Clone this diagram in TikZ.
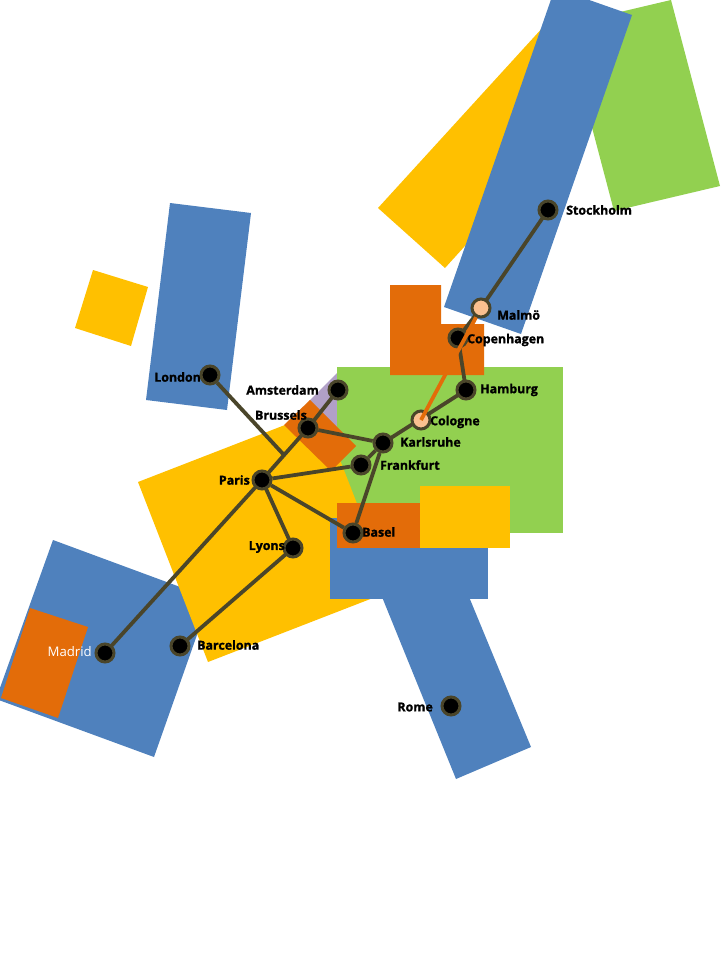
\documentclass[tikz,border=0pt]{standalone}
\usepackage{fontspec}
\setmainfont[BoldFeatures={FakeBold=1.2}]{Open Sans}
\usetikzlibrary{calc}
\definecolor{cblue}{HTML}{4F81BD}
\definecolor{cgreen}{HTML}{92D050}
\definecolor{cyellow}{HTML}{FFC000}
\definecolor{corange}{HTML}{E36C09}
\definecolor{clav}{HTML}{B1A0C7}
\definecolor{cline}{HTML}{4A452A}
\definecolor{cpeach}{HTML}{FAC090}
\pgfdeclarelayer{areas}
\pgfdeclarelayer{lines}
\pgfsetlayers{areas,lines,main}
\tikzset{
  area/.style={draw=none},
  stopdark/.style={circle,draw=cline,line width=3pt,fill=black,minimum size=18pt,inner sep=0pt},
  stoplight/.style={circle,draw=cline,line width=3pt,fill=cpeach,minimum size=18pt,inner sep=0pt},
  metro/.style={draw=cline,line width=3.8pt},
  metroorange/.style={draw=corange,line width=3.8pt},
  lbl/.style={font=\fontsize{12.4}{14}\selectfont\bfseries,text=black,inner sep=0pt},
}
\begin{document}
\begin{tikzpicture}[x=1pt,y=-1pt]
\useasboundingbox (0,0) rectangle (720,960);
\begin{pgfonlayer}{areas}
\clip (0,0) rectangle (720,960);
\fill[area,cgreen] (671,0)--(720,186)--(614,211)--(565,25)--cycle;
\fill[area,cyellow] (378,208)--(445,268)--(590,108)--(545,25)--cycle;
\fill[area,cblue] (555,-12)--(632,15)--(521,334)--(444,307)--cycle;
\fill[area,cblue] (170,203)--(251,213)--(227,410)--(146,400)--cycle;
\fill[area,cyellow] (93,270)--(148,287)--(131,346)--(75,328)--cycle;
\fill[area,cblue] (53,540)--(210,598)--(154,757)--(-4,699)--cycle;
\fill[area,corange] (30,608)--(88,627)--(58,718)--(1,698)--cycle;
\fill[area,clav] (337,373)--(309,401)--(337,430)--cycle;
\fill[area,cgreen] (337,367) rectangle (563,533);
\fill[area,cyellow] (138,482)--(321,411)--(391,591)--(208,662)--cycle;
\fill[area,corange] (310,400)--(356,446)--(331,471)--(284,425)--cycle;
\fill[area,corange] (390,285)--(441,285)--(441,324)--(484,324)--(484,375)--(390,375)--cycle;
\fill[area,cblue] (531,747)--(456,779)--(380,592)--(467,592)--cycle;
\fill[area,cblue] (330,518) rectangle (488,599);
\fill[area,corange] (337,503) rectangle (420,548);
\fill[area,cyellow] (420,486) rectangle (510,548);
\end{pgfonlayer}
% stops
\node[stopdark] (Stockholm) at (548,210) {};
\node[stoplight] (Malmo) at (481,308) {};
\node[stopdark] (Copenhagen) at (458,338) {};
\node[stopdark] (Hamburg) at (466,390) {};
\node[stoplight] (Cologne) at (421,420) {};
\node[stopdark] (Karlsruhe) at (383,443) {};
\node[stopdark] (Frankfurt) at (361,465) {};
\node[stopdark] (Basel) at (353,533) {};
\node[stopdark] (Amsterdam) at (338,390) {};
\node[stopdark] (Brussels) at (308,428) {};
\node[stopdark] (London) at (210,375) {};
\node[stopdark] (Paris) at (262,480) {};
\node[stopdark] (Lyons) at (293,548) {};
\node[stopdark] (Barcelona) at (180,646) {};
\node[stopdark] (Madrid) at (105,653) {};
\node[stopdark] (Rome) at (451,706) {};
\coordinate (jLondon) at (284,455);
% connectors
\begin{pgfonlayer}{lines}
\draw[metro] (Stockholm.center)--(Malmo.center)--(Copenhagen.center)--(Hamburg.center)--(Karlsruhe.center);
\draw[metro] (Karlsruhe)--(Frankfurt);
\draw[metro] (Karlsruhe)--(Basel);
\draw[metro] (Karlsruhe)--(Brussels);
\draw[metro] (Amsterdam.center)--(Brussels.center)--(Paris.center)--(Madrid.center);
\draw[metro] (London)--(jLondon);
\draw[metro] (Paris)--(Frankfurt);
\draw[metro] (Paris)--(Basel);
\draw[metro] (Paris.center)--(Lyons.center)--(Barcelona.center);
\end{pgfonlayer}
\draw[metroorange] (Malmo)--(Cologne.center);
% labels
\node[lbl,anchor=west] (tStockholm) at (566,210) {Stockholm};
\node[lbl,anchor=west] (tMalmo) at (497,315) {Malmö};
\node[lbl,anchor=west] (tCopen) at (467,340) {Copenhagen};
\node[lbl,anchor=west] (tHamburg) at (480,390) {Hamburg};
\node[lbl,anchor=west] (tCologne) at (430,422) {Cologne};
\node[lbl,anchor=west] (tKarl) at (400,442) {Karlsruhe};
\node[lbl,anchor=west] (tFrank) at (380,465) {Frankfurt};
\node[lbl,anchor=west] (tBasel) at (362,532) {Basel};
\node[lbl,anchor=east] (tAmst) at (319,390) {Amsterdam};
\node[lbl,anchor=east] (tBrus) at (307,415) {Brussels};
\node[lbl,anchor=east] (tLondon) at (201,377) {London};
\node[lbl,anchor=east] (tParis) at (250,480) {Paris};
\node[lbl,anchor=east] (tLyons) at (285,547) {Lyons};
\node[lbl,anchor=west] (tBarc) at (197,645) {Barcelona};
\node[lbl,anchor=east,text=white,font=\fontsize{13.2}{14}\selectfont] (tMadrid) at (92,652) {Madrid};
\node[lbl,anchor=east] (tRome) at (433,707) {Rome};
\end{tikzpicture}
\end{document}
